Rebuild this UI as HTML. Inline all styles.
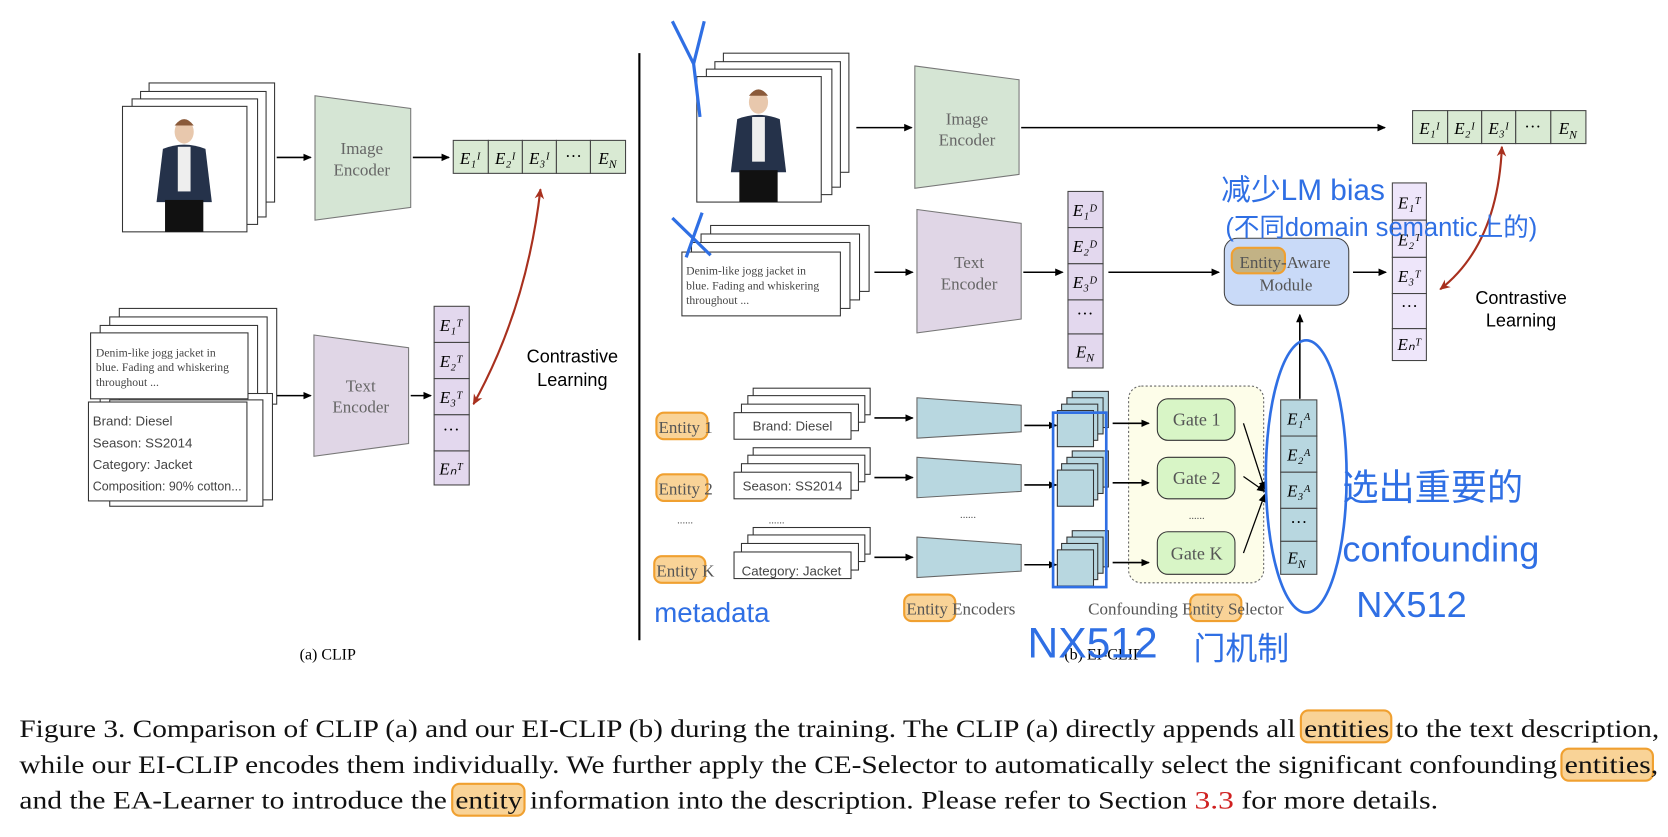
<!DOCTYPE html>
<html><head><meta charset="utf-8"><style>
html,body{margin:0;padding:0;background:#fff;width:1668px;height:837px;overflow:hidden}
svg{display:block}
.s{font-family:"Liberation Serif",serif}
.a{font-family:"Liberation Sans",sans-serif}
.h{font-family:"Liberation Sans","Noto Sans CJK SC",sans-serif;fill:#2f6fe4}
</style></head><body>
<svg width="1668" height="837" viewBox="0 0 1568 787" xmlns="http://www.w3.org/2000/svg">
<defs>
<marker id="ar" markerWidth="8" markerHeight="8" refX="7" refY="4" orient="auto" markerUnits="userSpaceOnUse"><path d="M0,0.5 L8,4 L0,7.5z" fill="#000"/></marker>
<marker id="rr" markerWidth="10" markerHeight="10" refX="9" refY="5" orient="auto-start-reverse" markerUnits="userSpaceOnUse"><path d="M0,0.5 L10,5 L0,9.5 L3,5z" fill="#a8301e"/></marker>
<g id="person">
<rect width="117" height="118" fill="#fff" stroke="#333"/>
<ellipse cx="58" cy="24" rx="9" ry="11" fill="#e8c8ad"/>
<path d="M49,18 Q58,6 67,18 Z" fill="#8a5a3a"/>
<path d="M38,40 Q58,32 78,40 L84,90 L32,90 Z" fill="#25324a"/>
<rect x="52" y="38" width="12" height="42" fill="#eee"/>
<rect x="40" y="88" width="36" height="30" fill="#111"/>
</g>
</defs>
<!-- LEFT PANEL -->
<g stroke="#333" fill="#fff">
<rect x="140" y="78" width="118" height="112"/><rect x="132" y="86" width="118" height="118"/><rect x="124" y="93" width="118" height="118"/>
</g>
<use href="#person" x="115" y="100"/>
<line x1="260" y1="148" x2="292" y2="148" stroke="#000" stroke-width="1.5" marker-end="url(#ar)"/>
<path d="M296,90 L386,102 L386,195 L296,207Z" fill="#d5e5d4" stroke="#777"/>
<text class="s" x="340" y="145" font-size="16" fill="#666" text-anchor="middle">Image</text>
<text class="s" x="340" y="165" font-size="16" fill="#666" text-anchor="middle">Encoder</text>
<line x1="388" y1="148" x2="422" y2="148" stroke="#000" stroke-width="1.5" marker-end="url(#ar)"/>
<g stroke="#444" fill="#d9ead3"><rect x="426" y="132" width="33" height="31"/><rect x="459" y="132" width="32" height="31"/><rect x="491" y="132" width="32" height="31"/><rect x="523" y="132" width="32" height="31"/><rect x="555" y="132" width="33" height="31"/></g>
<g class="s" font-size="16" font-style="italic" text-anchor="middle"><text x="442" y="154">E₁ᴵ</text><text x="475" y="154">E₂ᴵ</text><text x="507" y="154">E₃ᴵ</text><text x="539" y="152" font-style="normal">···</text><text x="571" y="154">E<tspan font-size="11" dy="4">N</tspan></text></g>
<path d="M508,178 Q495,290 445,380" fill="none" stroke="#a8301e" stroke-width="2" marker-start="url(#rr)" marker-end="url(#rr)"/>
<text class="a" x="538" y="341" font-size="17" text-anchor="middle">Contrastive</text>
<text class="a" x="538" y="363" font-size="17" text-anchor="middle">Learning</text>
<g stroke="#333" fill="#fff">
<rect x="112" y="290" width="148" height="90"/><rect x="103" y="298" width="148" height="90"/><rect x="94" y="306" width="148" height="90"/>
<rect x="112" y="370" width="144" height="100"/><rect x="103" y="376" width="144" height="100"/>
<rect x="85" y="313" width="148" height="62"/>
<rect x="83" y="378" width="149" height="93"/>
</g>
<g class="s" font-size="11" fill="#444"><text x="90" y="335">Denim-like jogg jacket in</text><text x="90" y="349">blue. Fading and whiskering</text><text x="90" y="363">throughout ...</text></g>
<g class="a" font-size="12.5" fill="#444"><text x="87" y="400">Brand: Diesel</text><text x="87" y="421">Season: SS2014</text><text x="87" y="441">Category: Jacket</text><text x="87" y="461" textLength="140" lengthAdjust="spacingAndGlyphs">Composition: 90% cotton...</text></g>
<line x1="260" y1="372" x2="292" y2="372" stroke="#000" stroke-width="1.5" marker-end="url(#ar)"/>
<path d="M295,315 L384,327 L384,417 L295,429Z" fill="#e0d6e6" stroke="#777"/>
<text class="s" x="339" y="368" font-size="16" fill="#666" text-anchor="middle">Text</text>
<text class="s" x="339" y="388" font-size="16" fill="#666" text-anchor="middle">Encoder</text>
<line x1="386" y1="372" x2="405" y2="372" stroke="#000" stroke-width="1.5" marker-end="url(#ar)"/>
<g stroke="#444" fill="#e3d8ee"><rect x="408" y="288" width="33" height="34"/><rect x="408" y="322" width="33" height="34"/><rect x="408" y="356" width="33" height="34"/><rect x="408" y="390" width="33" height="34"/><rect x="408" y="424" width="33" height="32"/></g>
<g class="s" font-size="16" font-style="italic" text-anchor="middle"><text x="424" y="311">E₁ᵀ</text><text x="424" y="345">E₂ᵀ</text><text x="424" y="379">E₃ᵀ</text><text x="424" y="409" font-style="normal">···</text><text x="424" y="446">Eₙᵀ</text></g>
<text class="s" x="308" y="620" font-size="15" text-anchor="middle">(a) CLIP</text>
<line x1="601" y1="50" x2="601" y2="602" stroke="#000" stroke-width="2"/>
<!-- RIGHT PANEL -->
<g stroke="#333" fill="#fff"><rect x="680" y="50" width="118" height="112"/><rect x="672" y="58" width="118" height="118"/><rect x="664" y="65" width="118" height="118"/></g>
<use href="#person" x="655" y="72"/>
<line x1="805" y1="120" x2="857" y2="120" stroke="#000" stroke-width="1.5" marker-end="url(#ar)"/>
<path d="M860,62 L958,75 L958,164 L860,177Z" fill="#d5e5d4" stroke="#777"/>
<text class="s" x="909" y="117" font-size="16" fill="#666" text-anchor="middle">Image</text>
<text class="s" x="909" y="137" font-size="16" fill="#666" text-anchor="middle">Encoder</text>
<line x1="960" y1="120" x2="1302" y2="120" stroke="#000" stroke-width="1.5" marker-end="url(#ar)"/>
<g stroke="#444" fill="#d9ead3"><rect x="1328" y="104" width="33" height="31"/><rect x="1361" y="104" width="32" height="31"/><rect x="1393" y="104" width="32" height="31"/><rect x="1425" y="104" width="33" height="31"/><rect x="1458" y="104" width="33" height="31"/></g>
<g class="s" font-size="16" font-style="italic" text-anchor="middle"><text x="1344" y="126">E₁ᴵ</text><text x="1377" y="126">E₂ᴵ</text><text x="1409" y="126">E₃ᴵ</text><text x="1441" y="124" font-style="normal">···</text><text x="1474" y="126">E<tspan font-size="11" dy="4">N</tspan></text></g>
<g stroke="#333" fill="#fff"><rect x="668" y="212" width="149" height="62"/><rect x="659" y="220" width="149" height="62"/><rect x="650" y="228" width="149" height="62"/><rect x="641" y="237" width="149" height="60"/></g>
<g class="s" font-size="11" fill="#444"><text x="645" y="258">Denim-like jogg jacket in</text><text x="645" y="272">blue. Fading and whiskering</text><text x="645" y="286">throughout ...</text></g>
<line x1="822" y1="256" x2="858" y2="256" stroke="#000" stroke-width="1.5" marker-end="url(#ar)"/>
<path d="M862,197 L960,210 L960,300 L862,313Z" fill="#e0d6e6" stroke="#777"/>
<text class="s" x="911" y="252" font-size="16" fill="#666" text-anchor="middle">Text</text>
<text class="s" x="911" y="272" font-size="16" fill="#666" text-anchor="middle">Encoder</text>
<line x1="962" y1="256" x2="999" y2="256" stroke="#000" stroke-width="1.5" marker-end="url(#ar)"/>
<g stroke="#444" fill="#e3d8ee"><rect x="1004" y="180" width="33" height="34"/><rect x="1004" y="214" width="33" height="34"/><rect x="1004" y="248" width="33" height="34"/><rect x="1004" y="282" width="33" height="32"/><rect x="1004" y="314" width="33" height="32"/></g>
<g class="s" font-size="16" font-style="italic" text-anchor="middle"><text x="1020" y="203">E₁ᴰ</text><text x="1020" y="237">E₂ᴰ</text><text x="1020" y="271">E₃ᴰ</text><text x="1020" y="300" font-style="normal">···</text><text x="1020" y="336">E<tspan font-size="11" dy="4">N</tspan></text></g>
<line x1="1042" y1="256" x2="1146" y2="256" stroke="#000" stroke-width="1.5" marker-end="url(#ar)"/>
<rect x="1151" y="224" width="117" height="63" rx="12" fill="#c9daf8" stroke="#444"/>
<rect x="1158" y="233" width="50" height="24" rx="7" fill="#c2b285" stroke="#f0a030" stroke-width="2"/>
<text class="s" x="1208" y="252" font-size="16" fill="#555" text-anchor="middle">Entity-Aware</text>
<text class="s" x="1209" y="273" font-size="16" fill="#555" text-anchor="middle">Module</text>
<line x1="1272" y1="256" x2="1303" y2="256" stroke="#000" stroke-width="1.5" marker-end="url(#ar)"/>
<g stroke="#444" fill="#eee6fa"><rect x="1309" y="172" width="32" height="35"/><rect x="1309" y="207" width="32" height="35"/><rect x="1309" y="242" width="32" height="34"/><rect x="1309" y="276" width="32" height="33"/><rect x="1309" y="309" width="32" height="30"/></g>
<g class="s" font-size="16" font-style="italic" text-anchor="middle"><text x="1325" y="196">E₁ᵀ</text><text x="1325" y="231">E₂ᵀ</text><text x="1325" y="265">E₃ᵀ</text><text x="1325" y="293" font-style="normal">···</text><text x="1325" y="329">Eₙᵀ</text></g>
<path d="M1412,138 Q1408,230 1354,272" fill="none" stroke="#a8301e" stroke-width="2" marker-start="url(#rr)" marker-end="url(#rr)"/>
<text class="a" x="1430" y="286" font-size="17" text-anchor="middle">Contrastive</text>
<text class="a" x="1430" y="307" font-size="17" text-anchor="middle">Learning</text>
<line x1="1222" y1="375" x2="1222" y2="296" stroke="#000" stroke-width="1.5" marker-end="url(#ar)"/>
<!-- entity rows -->
<rect x="1061" y="363" width="127" height="185" rx="12" fill="#fdfde9" stroke="#666" stroke-dasharray="2,2"/>
<g id="row">
<g stroke="#333" fill="#fff"><rect x="708" y="365" width="110" height="25"/><rect x="703" y="372" width="110" height="25"/><rect x="697" y="380" width="110" height="25"/><rect x="690" y="388" width="110" height="25"/></g>
<line x1="822" y1="393" x2="858" y2="393" stroke="#000" stroke-width="1.5" marker-end="url(#ar)"/>
<path d="M862,374 L960,381 L960,406 L862,412Z" fill="#b8d7e0" stroke="#666"/>
<line x1="963" y1="400" x2="993" y2="400" stroke="#000" stroke-width="1.5" marker-end="url(#ar)"/>
<g stroke="#333" fill="#b8d7e0"><rect x="1008" y="368" width="34" height="34"/><rect x="1003" y="374" width="34" height="34"/><rect x="998" y="380" width="34" height="34"/><rect x="994" y="386" width="34" height="34"/></g>
<line x1="1046" y1="398" x2="1080" y2="398" stroke="#000" stroke-width="1.5" marker-end="url(#ar)"/>
</g>
<use href="#row" y="56"/>
<use href="#row" y="131"/>
<g stroke="#333" fill="#d8f5c6"><rect x="1088" y="375" width="73" height="39" rx="10"/><rect x="1088" y="430" width="73" height="39" rx="10"/><rect x="1088" y="500" width="73" height="40" rx="10"/></g>
<g class="s" font-size="17" fill="#555" text-anchor="middle"><text x="1125" y="400">Gate 1</text><text x="1125" y="455">Gate 2</text><text x="1125" y="526">Gate K</text><text x="1125" y="488" font-size="10">......</text><text x="910" y="487" font-size="10">......</text><text x="644" y="492" font-size="10">......</text><text x="730" y="492" font-size="10">......</text></g>
<g stroke="#000" stroke-width="1.2" fill="none"><line x1="1169" y1="398" x2="1189" y2="460" marker-end="url(#ar)"/><line x1="1169" y1="448" x2="1189" y2="462" marker-end="url(#ar)"/><line x1="1169" y1="520" x2="1189" y2="465" marker-end="url(#ar)"/></g>
<g stroke="#444" fill="#b8d7e0"><rect x="1204" y="376" width="34" height="34"/><rect x="1204" y="410" width="34" height="34"/><rect x="1204" y="444" width="34" height="34"/><rect x="1204" y="478" width="34" height="31"/><rect x="1204" y="509" width="34" height="31"/></g>
<g class="s" font-size="16" font-style="italic" text-anchor="middle"><text x="1221" y="399">E₁ᴬ</text><text x="1221" y="433">E₂ᴬ</text><text x="1221" y="467">E₃ᴬ</text><text x="1221" y="496" font-style="normal">···</text><text x="1219" y="530">E<tspan font-size="11" dy="4">N</tspan></text></g>
<g class="a" font-size="12.5" fill="#444" text-anchor="middle"><text x="745" y="405">Brand: Diesel</text><text x="745" y="461">Season: SS2014</text><text x="744" y="541">Category: Jacket</text></g>
<g fill="#f9d397" stroke="#f0a030" stroke-width="2"><rect x="617" y="388" width="48" height="25" rx="7"/><rect x="617" y="446" width="48" height="25" rx="7"/><rect x="615" y="523" width="48" height="25" rx="7"/><rect x="850" y="559" width="48" height="25" rx="7"/><rect x="1119" y="559" width="48" height="25" rx="7"/></g>
<g class="s" font-size="16" fill="#555"><text x="619" y="407">Entity 1</text><text x="619" y="465">Entity 2</text><text x="617" y="542">Entity K</text><text x="852" y="578">Entity Encoders</text><text x="1023" y="578">Confounding Entity Selector</text></g>
<rect x="990" y="388" width="50" height="164" fill="none" stroke="#2f6fe4" stroke-width="2.5"/>
<ellipse cx="1228" cy="448" rx="38" ry="128" fill="none" stroke="#2f6fe4" stroke-width="2.5"/>
<text class="s" x="1037" y="620" font-size="15" text-anchor="middle">(b) EI-CLIP</text>
<!-- handwriting -->
<g class="h">
<path d="M632,20 L652,60 L662,20 M652,60 L658,110" fill="none" stroke="#2f6fe4" stroke-width="3"/>
<path d="M632,205 L668,240 M660,200 L645,242" fill="none" stroke="#2f6fe4" stroke-width="3"/>
<text x="1148" y="188" font-size="28">减少LM bias</text>
<text x="1152" y="222" font-size="24">(不同domain semantic上的)</text>
<text x="1262" y="470" font-size="34">选出重要的</text>
<text x="1262" y="528" font-size="34">confounding</text>
<text x="1275" y="580" font-size="34">NX512</text>
<text x="966" y="618" font-size="40">NX512</text>
<text x="1122" y="620" font-size="30">门机制</text>
<text x="615" y="585" font-size="26">metadata</text>
</g>
<!-- caption -->
<g fill="#f9d397" stroke="#f0a030" stroke-width="2"><rect x="1223" y="668" width="85" height="30" rx="7"/><rect x="1468" y="704" width="86" height="30" rx="7"/><rect x="425" y="737" width="68" height="30" rx="7"/></g>
<g class="s" font-size="24" fill="#111">
<text x="18" y="693" textLength="1200" lengthAdjust="spacingAndGlyphs">Figure 3. Comparison of CLIP (a) and our EI-CLIP (b) during the training. The CLIP (a) directly appends all</text>
<text x="1226" y="693" textLength="80" lengthAdjust="spacingAndGlyphs">entities</text>
<text x="1312" y="693" textLength="248" lengthAdjust="spacingAndGlyphs">to the text description,</text>
<text x="18" y="727" textLength="1446" lengthAdjust="spacingAndGlyphs">while our EI-CLIP encodes them individually. We further apply the CE-Selector to automatically select the significant confounding</text>
<text x="1471" y="727" textLength="88" lengthAdjust="spacingAndGlyphs">entities,</text>
<text x="18" y="760" textLength="402" lengthAdjust="spacingAndGlyphs">and the EA-Learner to introduce the</text>
<text x="428" y="760" textLength="63" lengthAdjust="spacingAndGlyphs">entity</text>
<text x="498" y="760" textLength="618" lengthAdjust="spacingAndGlyphs">information into the description. Please refer to Section</text>
<text x="1123" y="760" fill="#d02020" textLength="37" lengthAdjust="spacingAndGlyphs">3.3</text>
<text x="1167" y="760" textLength="185" lengthAdjust="spacingAndGlyphs">for more details.</text>
</g>
</svg>
</body></html>
